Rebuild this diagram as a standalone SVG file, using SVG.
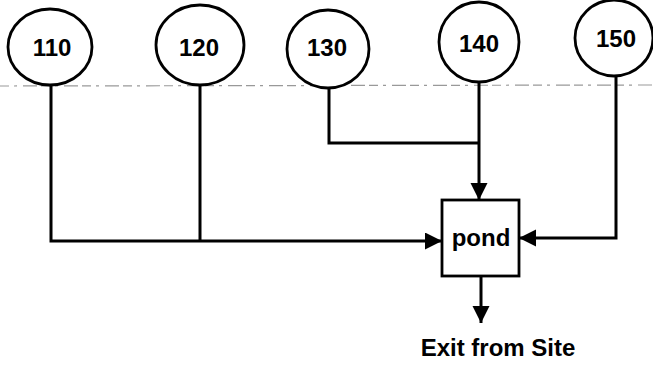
<svg xmlns="http://www.w3.org/2000/svg" width="653" height="366" viewBox="0 0 653 366">
<style>
.node ellipse{fill:#fff;stroke:#000;stroke-width:2.8}
.node rect{fill:#fff;stroke:#000;stroke-width:2.8}
.lbl{font-family:"Liberation Sans",Arial,sans-serif;font-weight:bold;font-size:24px;fill:#000;text-anchor:middle}
.conn path{fill:none;stroke:#000;stroke-width:3}
.scan{stroke:#999;stroke-width:1.2;stroke-dasharray:9 5 3 6 14 4}
</style>
<defs>
<marker id="ah" markerUnits="userSpaceOnUse" markerWidth="18" markerHeight="18" refX="17" refY="8.5" orient="auto">
<path d="M0,0 L17,8.5 L0,17 z" fill="#000"/>
</marker>
</defs>
<line class="scan" x1="0" y1="86" x2="653" y2="85"/>
<g class="conn">
<path d="M51,85 V241 H442" marker-end="url(#ah)"/>
<path d="M200,85 V241"/>
<path d="M329,88 V143 H479"/>
<path d="M479,82 V200" marker-end="url(#ah)"/>
<path d="M616,77 V238 H519" marker-end="url(#ah)"/>
<path d="M481,276 V323" marker-end="url(#ah)"/>
</g>
<g id="n110" class="node"><ellipse cx="50" cy="47" rx="42" ry="38"/><text class="lbl" x="52" y="56">110</text></g>
<g id="n120" class="node"><ellipse cx="200" cy="45" rx="44" ry="40"/><text class="lbl" x="199" y="56">120</text></g>
<g id="n130" class="node"><ellipse cx="328" cy="49" rx="41" ry="39"/><text class="lbl" x="327" y="56">130</text></g>
<g id="n140" class="node"><ellipse cx="479" cy="42" rx="40" ry="40"/><text class="lbl" x="479" y="52">140</text></g>
<g id="n150" class="node"><ellipse cx="614" cy="38" rx="39" ry="38"/><text class="lbl" x="616" y="47">150</text></g>
<g id="pond" class="node"><rect x="442" y="200" width="77" height="76"/><text class="lbl" x="481" y="246">pond</text></g>
<g id="exit"><text class="lbl" x="498" y="356">Exit from Site</text></g>
</svg>
